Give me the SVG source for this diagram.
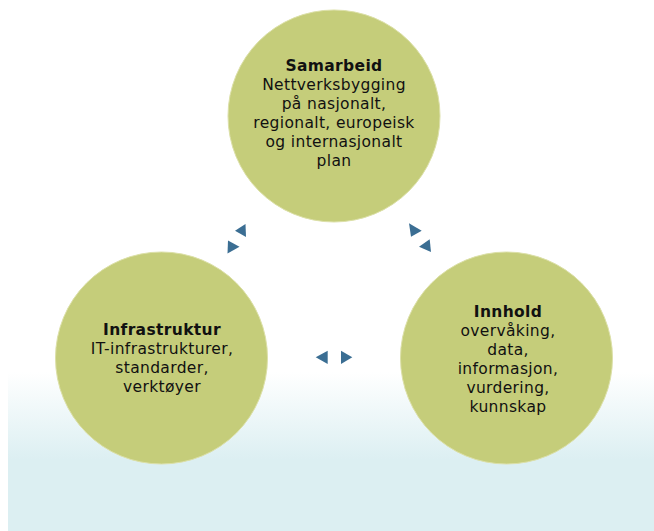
<svg xmlns="http://www.w3.org/2000/svg" width="654" height="531" viewBox="0 0 654 531">
  <defs>
    <linearGradient id="bg" x1="0" y1="0" x2="0" y2="1">
      <stop offset="0" stop-color="#FFFFFF"/>
      <stop offset="0.55" stop-color="#DCEFF2"/>
      <stop offset="1" stop-color="#DCEFF2"/>
    </linearGradient>
  </defs>
  <style>
    .node { fill: #C5CD7A; stroke: #DCE0A8; stroke-width: 1; }
    .t { font-family: "DejaVu Sans", Verdana, sans-serif; font-size: 15.5px; letter-spacing: 0.35px; fill: #111111; text-anchor: middle; }
    .b { font-weight: bold; }
    .arr { fill: #3B6E93; }
  </style>
  <rect x="8" y="372" width="646" height="159" fill="url(#bg)"/>
  <g id="connectors">
    <polygon class="arr" points="235,230.7 245.5,224 246,237"/>
    <polygon class="arr" points="228,240.5 227.5,253.5 239.5,246.7"/>
    <polygon class="arr" points="409,223.3 411,236.7 421.7,230.7"/>
    <polygon class="arr" points="419,246.7 429.7,239.3 431,252"/>
    <polygon class="arr" points="315.7,357.3 327.7,350.7 327.7,364"/>
    <polygon class="arr" points="341,350.7 341,364 352.3,357.3"/>
  </g>
  <g id="samarbeid">
    <circle class="node" cx="334" cy="116" r="106"/>
    <text class="t b" x="334" y="71">Samarbeid</text>
    <text class="t" x="334" y="90">Nettverksbygging</text>
    <text class="t" x="334" y="109">på nasjonalt,</text>
    <text class="t" x="334" y="128">regionalt, europeisk</text>
    <text class="t" x="334" y="147">og internasjonalt</text>
    <text class="t" x="334" y="166">plan</text>
  </g>
  <g id="infrastruktur">
    <circle class="node" cx="161.5" cy="358" r="106"/>
    <text class="t b" x="162" y="335">Infrastruktur</text>
    <text class="t" x="162" y="354">IT-infrastrukturer,</text>
    <text class="t" x="162" y="373">standarder,</text>
    <text class="t" x="162" y="392">verktøyer</text>
  </g>
  <g id="innhold">
    <circle class="node" cx="506.5" cy="358" r="106"/>
    <text class="t b" x="508" y="317">Innhold</text>
    <text class="t" x="508" y="336">overvåking,</text>
    <text class="t" x="508" y="355">data,</text>
    <text class="t" x="508" y="374">informasjon,</text>
    <text class="t" x="508" y="393">vurdering,</text>
    <text class="t" x="508" y="412">kunnskap</text>
  </g>
</svg>
